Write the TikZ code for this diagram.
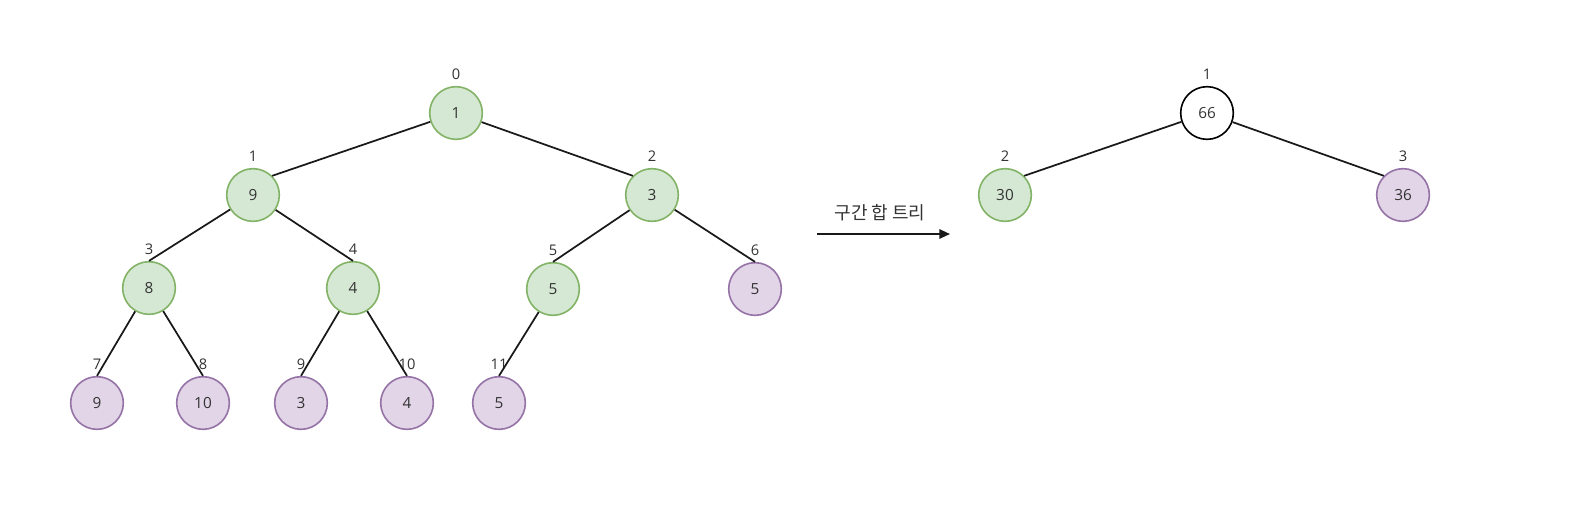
\documentclass[tikz,border=0pt]{standalone}
\usepackage{fontspec}
\setmainfont{Open Sans}
\newfontfamily\kr{Noto Sans CJK KR}
\usetikzlibrary{arrows.meta}

\definecolor{gfill}{HTML}{D5E8D4}
\definecolor{gline}{HTML}{82B366}
\definecolor{pfill}{HTML}{E1D5E7}
\definecolor{pline}{HTML}{9673A6}
\definecolor{ink}{HTML}{333333}

\tikzset{
  seg/.style={circle, minimum size=39.5pt, inner sep=0pt, line width=1.2pt,
    font=\fontsize{11.5}{13}\selectfont, text=ink},
  inner/.style={seg, draw=gline, fill=gfill},
  leaf/.style={seg, draw=pline, fill=pfill},
  top/.style={seg, draw=black, fill=white},
  idx/.style={font=\fontsize{11}{13}\selectfont, text=ink, inner sep=0pt},
  edge/.style={black!90, line width=1.3pt}
}

\begin{document}
\begin{tikzpicture}[x=0.75pt, y=-0.75pt, label distance=4.5pt]
  \useasboundingbox (0,0) rectangle (1576,514);

  % array tree (index above each node)
  \node[inner, label={[idx]above:0}] (t0) at (456,113) {1};
  \node[inner, label={[idx]above:1}] (t1) at (253,195) {9};
  \node[inner, label={[idx]above:2}] (t2) at (652,195) {3};
  \node[inner, label={[idx]above:3}] (t3) at (149,288) {8};
  \node[inner, label={[idx]above:4}] (t4) at (353,288) {4};
  \node[inner, label={[idx]above:5}] (t5) at (553,289) {5};
  \node[leaf,  label={[idx]above:6}] (t6) at (755,289) {5};

  % leaves
  \foreach \i/\x/\v in {7/97/9, 8/203/10, 9/301/3, 10/407/4, 11/499/5}
    \node[leaf, label={[idx]above:\i}] (t\i) at (\x,403) {\v};

  \draw[edge] (t0) -- (t1.north east);
  \draw[edge] (t0) -- (t2.north west);
  \foreach \a/\b in {t1/t3, t1/t4, t2/t5, t2/t6,
                     t3/t7, t3/t8, t4/t9, t4/t10, t5/t11}
    \draw[edge] (\a) -- (\b.north);

  % arrow
  \coordinate (arrS) at (817,234);
  \coordinate (arrE) at (950,234);
  \draw[edge, line width=1.5pt, -{Triangle[length=8pt, width=7pt]}] (arrS) -- (arrE);
  \node[idx, font=\kr\fontsize{13.5}{15}\selectfont] (cap) at (880,213) {구간 합 트리};

  % segment sum tree
  \node[top,   label={[idx]above:1}] (s1) at (1207,113) {66};
  \node[inner, label={[idx]above:2}] (s2) at (1005,195) {30};
  \node[leaf,  label={[idx]above:3}] (s3) at (1403,195) {36};
  \draw[edge] (s1) -- (s2.north east);
  \draw[edge] (s1) -- (s3.north west);
\end{tikzpicture}
\end{document}
